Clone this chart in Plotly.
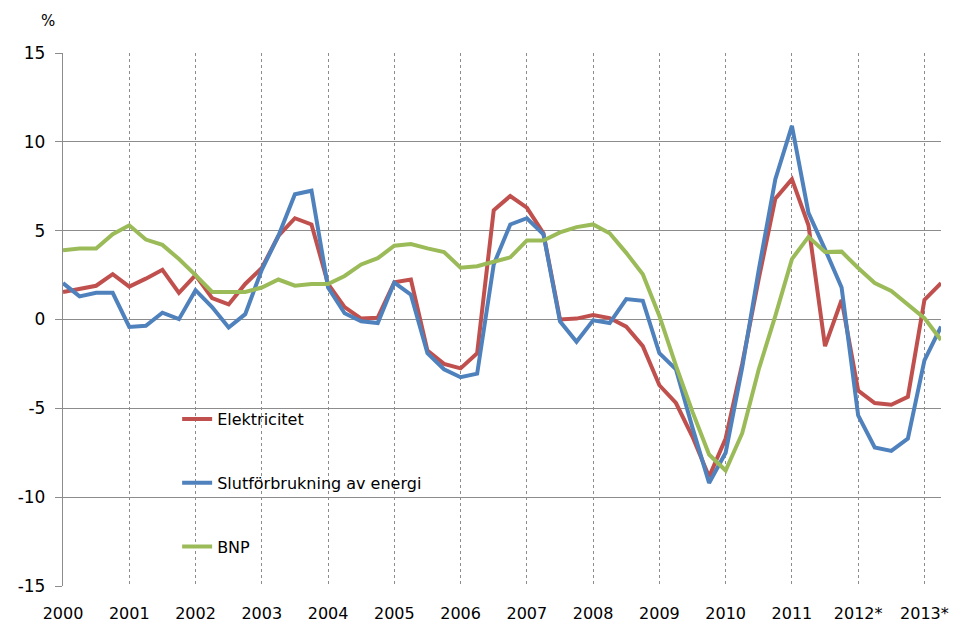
import plotly.graph_objects as go

year_labels = ["2000", "2001", "2002", "2003", "2004", "2005", "2006", "2007",
               "2008", "2009", "2010", "2011", "2012*", "2013*"]

y_ticks = [15, 10, 5, 0, -5, -10, -15]
y_tick_labels = ["15", "10", "5", "0", "-5", "-10", "-15"]

series_names = ["Elektricitet", "Slutförbrukning av energi", "BNP"]

elektricitet = [1.55, 1.75, 1.9, 2.55, 1.85, 2.3, 2.8, 1.5, 2.5, 1.2,
                0.85, 2.0, 2.9, 4.7, 5.7, 5.35, 2.0, 0.7, 0.05, 0.1,
                2.1, 2.25, -1.75, -2.5, -2.75, -1.9, 6.15, 6.95, 6.3, 4.85,
                0.0, 0.05, 0.25, 0.08, -0.4, -1.5, -3.7, -4.7, -6.6, -8.85,
                -6.7, -2.5, 2.3, 6.8, 7.9, 5.3, -1.5, 1.1, -4.0, -4.7,
                -4.8, -4.35, 1.1, 2.05]

slutforbrukning = [2.05, 1.3, 1.5, 1.5, -0.42, -0.35, 0.38, 0.02, 1.65, 0.7,
                   -0.45, 0.3, 2.8, 4.7, 7.05, 7.25, 1.8, 0.35, -0.1, -0.2,
                   2.08, 1.4, -1.9, -2.8, -3.25, -3.05, 3.1, 5.35, 5.7, 4.8,
                   -0.1, -1.25, -0.05, -0.2, 1.15, 1.05, -1.9, -2.8, -6.1, -9.2,
                   -7.5, -2.7, 2.8, 7.9, 10.9, 6.0, 3.95, 1.8, -5.4, -7.2,
                   -7.4, -6.7, -2.3, -0.4]

bnp = [3.9, 4.0, 4.0, 4.8, 5.3, 4.5, 4.2, 3.4, 2.5, 1.55,
       1.55, 1.55, 1.8, 2.25, 1.9, 2.0, 2.0, 2.45, 3.1, 3.45,
       4.15, 4.25, 4.0, 3.8, 2.92, 3.0, 3.25, 3.5, 4.45, 4.45,
       4.9, 5.2, 5.35, 4.85, 3.75, 2.55, 0.2, -2.6, -5.2, -7.6,
       -8.5, -6.4, -2.8, 0.2, 3.4, 4.65, 3.8, 3.82, 2.9, 2.05,
       1.6, 0.83, 0.08, -1.15]

colors = ["#C0504D", "#4F81BD", "#9BBB59"]

quarters_per_year = 4
x = list(range(len(bnp)))
tickvals = [i * quarters_per_year for i in range(len(year_labels))]

fig = go.Figure()
for name, vals, col in zip(series_names, [elektricitet, slutforbrukning, bnp], colors):
    fig.add_trace(go.Scatter(x=x, y=vals, mode="lines", name=name,
                             legendgroup=name,
                             line=dict(color=col, width=4)))

font = dict(family="DejaVu Sans", size=16, color="#000000")

fig.update_layout(
    width=960, height=614,
    margin=dict(l=55, r=27, t=45, b=36),
    plot_bgcolor="white", paper_bgcolor="white",
    font=font,
    showlegend=True,
    legend=dict(x=0.13, y=0.345, xanchor="left", yanchor="top",
                bgcolor="rgba(0,0,0,0)", font=font,
                tracegroupgap=40, itemwidth=30),
    xaxis=dict(range=[0, len(bnp) - 1], tickvals=tickvals, ticktext=year_labels,
               showgrid=True, gridcolor="#8C8C8C", griddash="dot", gridwidth=1,
               zeroline=False, showline=False, ticks="",
               ticklabelstandoff=16, automargin=False,
               tickfont=font),
    yaxis=dict(range=[-15, 15], tickvals=y_ticks, ticktext=y_tick_labels,
               showgrid=True, gridcolor="#8C8C8C", gridwidth=1.3,
               zeroline=True, zerolinecolor="#8C8C8C", zerolinewidth=1.3,
               showline=True, linecolor="#8C8C8C", linewidth=1.3,
               ticks="outside", ticklen=7, tickcolor="#8C8C8C",
               ticklabelstandoff=6,
               automargin=False, tickfont=dict(family="DejaVu Sans", size=17, color="#000")),
    annotations=[dict(text="%", x=-0.027, y=1.08, xref="paper", yref="paper",
                      showarrow=False, font=dict(family="DejaVu Sans", size=15, color="#000"))],
)

fig.write_html("out.html")
